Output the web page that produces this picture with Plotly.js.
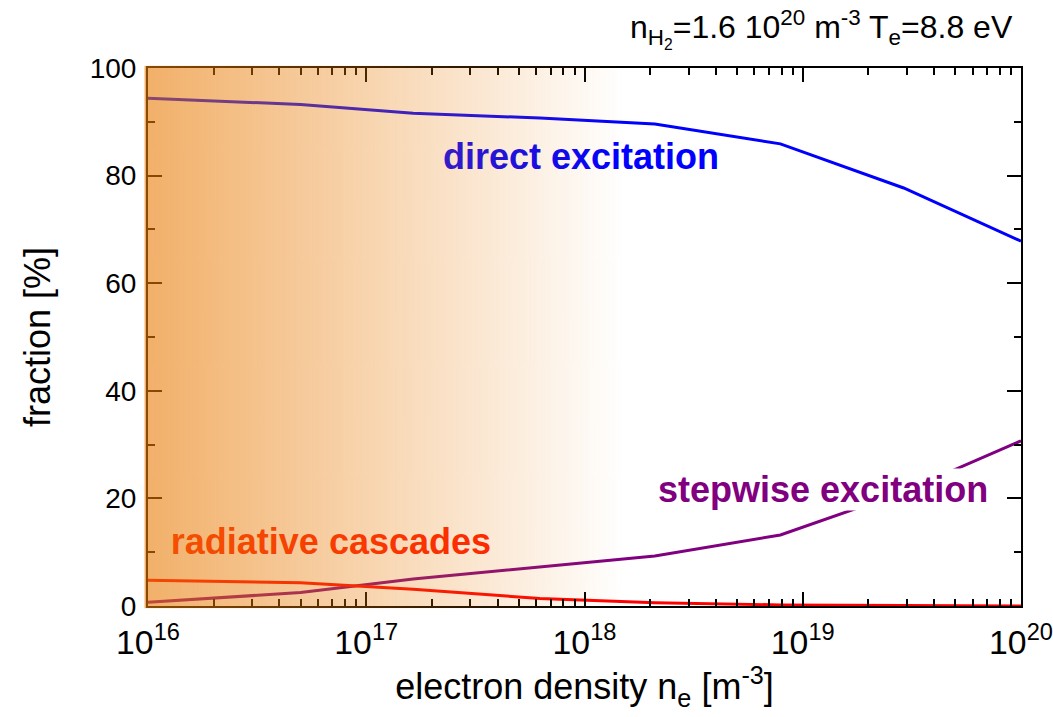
<!DOCTYPE html>
<html><head><meta charset="utf-8">
<script src="https://cdn.plot.ly/plotly-3.0.1.min.js"></script>
<style>html,body{margin:0;padding:0;background:#fff;}#chart{width:1053px;height:717px;}</style>
</head><body><div id="chart"></div>
<script>
// electron density points [m^-3]
const electronDensity = [1e16, 5e16, 1.64e17, 6.25e17, 2.1e18, 7.9e18, 2.9e19, 1e20];
const directExcitation = [94.4, 93.2, 91.6, 90.7, 89.6, 85.9, 77.7, 67.8];
const stepwiseExcitation = [0.7, 2.5, 5.0, 7.2, 9.3, 13.2, 21.2, 30.7];
const radiativeCascades = [4.8, 4.3, 3.1, 1.4, 0.6, 0.2, 0.1, 0.0];
const yTicks = [0, 20, 40, 60, 80, 100];

// gradient overlay image generated locally
const cv = document.createElement('canvas');
cv.width = 480; cv.height = 10;
const ctx = cv.getContext('2d');
const g = ctx.createLinearGradient(0, 0, 480, 0);
g.addColorStop(0, 'rgba(233,123,5,0.6)');
g.addColorStop(1, 'rgba(233,123,5,0)');
ctx.fillStyle = g; ctx.fillRect(0, 0, 480, 10);
const gradURL = cv.toDataURL('image/png');

const font = 'Liberation Sans, Arial, sans-serif';

const traces = [
  {x: electronDensity, y: directExcitation, mode: 'lines', line: {color: '#0000ff', width: 3}, cliponaxis: false},
  {x: electronDensity, y: stepwiseExcitation, mode: 'lines', line: {color: '#800080', width: 3}, cliponaxis: false},
  {x: electronDensity, y: radiativeCascades, mode: 'lines', line: {color: '#ff0000', width: 3}, cliponaxis: false},
  {x: [9.64e17], y: [82.9], mode: 'text', text: ['direct excitation'],
   textfont: {family: font, size: 36, color: '#0000ff', weight: 'bold'}, textposition: 'middle center', cliponaxis: false},
  {x: [6.89e16], y: [11.3], mode: 'text', text: ['radiative cascades'],
   textfont: {family: font, size: 36, color: '#ff1a00', weight: 'bold'}, textposition: 'middle center', cliponaxis: false}
];

const axisCommon = {
  showline: true, linecolor: '#000', linewidth: 2, mirror: 'allticks',
  ticks: 'inside', ticklen: 14, tickwidth: 2, tickcolor: '#000',
  showgrid: false, zeroline: false, ticklabeloverflow: 'allow'
};

const layout = {
  width: 1053, height: 717,
  margin: {l: 148, r: 32, t: 68, b: 111},
  paper_bgcolor: '#fff', plot_bgcolor: '#fff',
  showlegend: false,
  xaxis: Object.assign({}, axisCommon, {
    type: 'log', range: [16, 20], dtick: 1, exponentformat: 'power',
    tickfont: {family: font, size: 27, color: '#000'},
    ticklabelstandoff: 7,
    minor: {ticks: 'inside', ticklen: 7, tickwidth: 2, tickcolor: '#000', dtick: 'D1', showgrid: false},
    title: {text: 'electron density n<sub>e</sub> [m<sup>-3</sup>]', font: {family: font, size: 36, color: '#000'}, standoff: 12}
  }),
  yaxis: Object.assign({}, axisCommon, {
    range: [0, 100], tickvals: yTicks, ticktext: yTicks.map(String),
    tickfont: {family: font, size: 28, color: '#000'},
    ticklabelstandoff: 4,
    minor: {ticks: 'inside', ticklen: 7, tickwidth: 2, tickcolor: '#000', dtick: 10, showgrid: false},
    title: {text: 'fraction [%]', font: {family: font, size: 36, color: '#000'}, standoff: 28}
  }),
  images: [{
    source: gradURL, xref: 'paper', yref: 'paper', x: -0.004, y: 1.004,
    sizex: 0.55, sizey: 1.008, sizing: 'stretch', xanchor: 'left', yanchor: 'top', layer: 'above'
  }],
  annotations: [
    {x: Math.log10(1.24e19), y: 21.6, xref: 'x', yref: 'y', text: 'stepwise excitation', showarrow: false,
     font: {family: font, size: 36, color: '#800080', weight: 'bold'}, bgcolor: '#fff', borderpad: 0},
    {x: 0.993, y: 1.072, xref: 'paper', yref: 'paper', xanchor: 'right', yanchor: 'middle', showarrow: false,
     text: 'n<sub>H<sub>2</sub></sub>=1.6 10<sup>20</sup> m<sup>-3</sup> T<sub>e</sub>=8.8 eV',
     font: {family: font, size: 32, color: '#000'}}
  ]
};

Plotly.newPlot('chart', traces, layout, {displayModeBar: false, staticPlot: true});
</script></body></html>
